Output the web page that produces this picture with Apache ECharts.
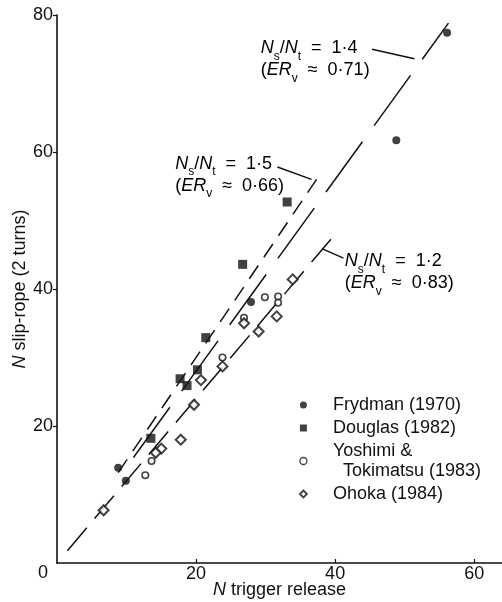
<!DOCTYPE html>
<html>
<head>
<meta charset="utf-8">
<script src="https://cdn.jsdelivr.net/npm/echarts@6/dist/echarts.min.js"></script>
<style>
  html, body { margin: 0; padding: 0; background: #fff; }
  #chart { width: 502px; height: 602px; }
</style>
</head>
<body>
<div id="chart"></div>
<script>
// Trigger-release N (x) against slip-rope N (y), four data sets
const frydmanX  = [56.1, 48.8, 27.9, 8.8, 9.9];
const frydmanY  = [77.4, 61.7, 38.1, 13.9, 12.0];
const douglasX  = [33.1, 26.7, 21.4, 20.2, 17.7, 18.7, 13.5];
const douglasY  = [52.7, 43.6, 32.9, 28.2, 26.9, 25.9, 18.2];
const yoshimiX  = [29.9, 31.8, 31.8, 26.9, 23.8, 13.6, 12.7];
const yoshimiY  = [38.8, 38.9, 38.0, 35.8, 30.0, 14.9, 12.8];
const ohokaX    = [33.9, 31.6, 29.0, 26.9, 23.8, 20.7, 19.7, 17.8, 15.0, 14.2, 6.7];
const ohokaY    = [41.4, 36.0, 33.8, 35.0, 28.7, 26.7, 23.1, 18.0, 16.7, 16.1, 7.7];

// Ns/Nt ratio lines (y = ratio * x) and the x-range each one spans
const ratios     = [1.4, 1.5, 1.2];
const ratioER    = ['0·71', '0·66', '0·83'];
const ratioFromX = [11.0, 8.8, 1.5];
const ratioToX   = [56.3, 37.8, 40.5];

const seriesNames = ['Frydman (1970)', 'Douglas (1982)', 'Yoshimi &\n  Tokimatsu (1983)', 'Ohoka (1984)'];
const xTicks = [0, 20, 40, 60];
const yTicks = [0, 20, 40, 60, 80];

const FONT = '"Liberation Sans", Arial, Helvetica, sans-serif';
const INK = '#111';

function pairs(xs, ys) { return xs.map((x, i) => [x, ys[i]]); }

const ratioDash = [[62, 20], [16, 10], [30, 12]];

const chart = echarts.init(document.getElementById('chart'), null, { renderer: 'canvas' });

const lineSeries = ratios.map((r, i) => ({
  type: 'line',
  name: 'ratio ' + r,
  data: [[ratioFromX[i], r * ratioFromX[i]], [ratioToX[i], r * ratioToX[i]]],
  symbol: 'none',
  silent: true,
  z: 1,
  lineStyle: { color: INK, width: 1.5, type: ratioDash[i] }
}));

const pointStyle = [
  { symbol: 'circle', symbolSize: 8, itemStyle: { color: INK, borderWidth: 0 } },
  { symbol: 'rect', symbolSize: 9, itemStyle: { color: INK, borderWidth: 0 } },
  { symbol: 'circle', symbolSize: 6.5, itemStyle: { color: '#fff', borderColor: INK, borderWidth: 1.6 } },
  { symbol: 'diamond', symbolSize: 10, itemStyle: { color: '#fff', borderColor: INK, borderWidth: 2 } }
];
const pointData = [pairs(frydmanX, frydmanY), pairs(douglasX, douglasY), pairs(yoshimiX, yoshimiY), pairs(ohokaX, ohokaY)];

const scatterSeries = seriesNames.map((name, i) => Object.assign({
  type: 'scatter',
  name: name,
  data: pointData[i],
  z: 3
}, pointStyle[i]));

const legendIcon = [
  { icon: 'circle', itemStyle: { color: INK, borderWidth: 0 } },
  { icon: 'rect', itemStyle: { color: INK, borderWidth: 0 } },
  { icon: 'circle', itemStyle: { color: '#fff', borderColor: INK, borderWidth: 1.3 } },
  { icon: 'diamond', itemStyle: { color: '#fff', borderColor: INK, borderWidth: 1.8 } }
];

chart.setOption({
  animation: false,
  backgroundColor: '#fff',
  textStyle: { fontFamily: FONT, color: INK },
  grid: { left: 57, right: 0, top: 15, bottom: 39, outerBoundsMode: 'none', containLabel: false },
  xAxis: {
    type: 'value', min: 0, max: 64, interval: 20,
    name: '{it|N} trigger release',
    nameLocation: 'middle', nameGap: 18, nameMoveOverlap: false,
    nameTextStyle: { fontSize: 18, color: INK, fontFamily: FONT,
      rich: { it: { fontStyle: 'italic', fontSize: 18, fontFamily: FONT, color: INK } } },
    axisLine: { lineStyle: { color: INK, width: 1.6 } },
    axisTick: { inside: true, length: 4, lineStyle: { color: INK, width: 1.2 } },
    axisLabel: { fontSize: 18, color: INK, margin: 2, showMinLabel: false, showMaxLabel: false,
      formatter: v => (xTicks.indexOf(v) >= 0 ? String(v) : '') },
    splitLine: { show: false }
  },
  yAxis: {
    type: 'value', min: 0, max: 80, interval: 20,
    name: '{it|N} slip-rope (2 turns)',
    nameLocation: 'middle', nameGap: 28, nameMoveOverlap: false,
    nameTextStyle: { fontSize: 18, color: INK, fontFamily: FONT,
      rich: { it: { fontStyle: 'italic', fontSize: 18, fontFamily: FONT, color: INK } } },
    axisLine: { lineStyle: { color: INK, width: 1.6 } },
    axisTick: { inside: false, length: 4, lineStyle: { color: INK, width: 1.2 } },
    axisLabel: { fontSize: 18, color: INK, margin: 4, showMinLabel: false,
      formatter: v => (yTicks.indexOf(v) >= 0 ? String(v) : '') },
    splitLine: { show: false }
  },
  legend: {
    orient: 'vertical',
    left: 294, top: 390,
    itemWidth: 7, itemHeight: 7,
    itemGap: 3,
    data: seriesNames.map((n, i) => Object.assign({ name: n }, legendIcon[i])),
    textStyle: { fontSize: 18, color: INK, fontFamily: FONT, lineHeight: 20, padding: [0, 0, 0, 21] },
    selectedMode: false
  },
  series: lineSeries.concat(scatterSeries)
});

// Annotation text for each ratio line: top-left corner in data coordinates
const annot = [
  { at: [29.3, 76.45], leader: [[45.3, 75.0], [51.4, 73.6]] },
  { at: [17.0, 59.55], leader: [[31.7, 57.8], [36.6, 56.0]] },
  { at: [41.4, 45.35], leader: [[38.1, 45.9], [41.2, 44.5]] }
];
const rich = {
  it:  { fontStyle: 'italic', fontSize: 18, fontFamily: FONT, color: INK, lineHeight: 22, verticalAlign: 'top' },
  n:   { fontSize: 18, fontFamily: FONT, color: INK, lineHeight: 22, verticalAlign: 'top' },
  sub: { fontSize: 12, fontFamily: FONT, color: INK, lineHeight: 12, padding: [11, 0, 0, 0], verticalAlign: 'top' }
};
const px = p => chart.convertToPixel({ gridIndex: 0 }, p);
const graphics = [];
ratios.forEach((r, i) => {
  const p = px(annot[i].at);
  const rs = String(r).replace('.', '·');
  graphics.push({
    type: 'text', x: p[0], y: p[1], silent: true,
    style: {
      text: '{it|N}{sub|s}{n|/}{it|N}{sub|t}{n|  =  ' + rs + '}\n{n|(}{it|ER}{sub|v}{n|  ≈  ' + ratioER[i] + ')}',
      rich: rich, verticalAlign: 'top', align: 'left'
    }
  });
  const a = px(annot[i].leader[0]), b = px(annot[i].leader[1]);
  graphics.push({
    type: 'line', silent: true,
    shape: { x1: a[0], y1: a[1], x2: b[0], y2: b[1] },
    style: { stroke: INK, lineWidth: 1.5 }
  });
});
// shared origin label
const o = px([0, 0]);
graphics.push({
  type: 'text', x: o[0] - 9, y: o[1] + 10, silent: true,
  style: { text: '0', fontSize: 18, fontFamily: FONT, fill: INK, align: 'right', verticalAlign: 'middle' }
});
chart.setOption({ graphic: graphics });
</script>
</body>
</html>
